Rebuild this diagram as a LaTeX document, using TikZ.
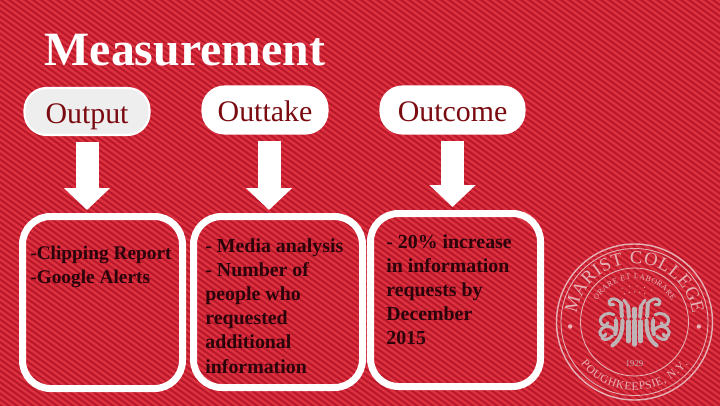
\documentclass[tikz,border=0pt]{standalone}
\usepackage{fontspec}
\setmainfont{Liberation Serif}
\usetikzlibrary{arrows.meta,decorations.text}
\definecolor{slidered}{RGB}{204,34,50}
\definecolor{stripered}{RGB}{222,52,66}
\definecolor{darkstripe}{RGB}{180,22,42}
\definecolor{pilltext}{RGB}{122,10,16}
\definecolor{bodytext}{RGB}{42,4,10}
\definecolor{sealgray}{RGB}{228,178,182}
\definecolor{monogram}{RGB}{190,180,182}
\tikzset{
  pill/.style={draw=white, fill=white, line width=1.2pt, rounded corners=.44cm, text=pilltext, font=\fontsize{17}{20}\selectfont, minimum height=.94cm, inner sep=0pt, text height=.52cm, text depth=.06cm},
  listbox/.style={draw=white, line width=.14cm, rounded corners=.56cm},
  listtext/.style={anchor=north west, inner sep=0pt, align=left, text=bodytext, font=\fontsize{11}{13.7}\selectfont\bfseries},
  widetext/.style={listtext, font=\fontsize{11.3}{13.7}\selectfont\bfseries},
  blockarrow/.style={draw=white, line width=.46cm, -{Triangle[length=.44cm,width=.9cm]}, shorten <=.12cm, shorten >=.06cm},
  sealring/.style={draw=sealgray, line width=.5pt},
  sealstem/.style={draw=monogram, line width=2.3pt, line cap=round},
  sealcurl/.style={draw=monogram, line width=1.7pt, line cap=round},
}
\begin{document}
\begin{tikzpicture}
\useasboundingbox (0,0) rectangle (14.4,8.1);
\fill[slidered] (-.1,-.1) rectangle (14.5,8.2);
% background weave
\begin{scope}
\clip (-.1,-.1) rectangle (14.5,8.2);
\foreach \s in {-13,-12.84,...,15}
  \draw[stripered, line width=1pt] (\s,8.2) -- ++(14,-10);
\foreach \s in {-12.92,-12.76,...,15}
  \draw[darkstripe, line width=.7pt] (\s,8.2) -- ++(14,-10);
\end{scope}

\node[text=white, inner sep=0pt, font=\fontsize{27.2}{30}\selectfont\bfseries] (title) at (3.7,7.1) {Measurement};

\node[pill, fill={rgb,255:red,238;green,238;blue,238}, minimum width=2.5cm] (output) at (1.74,5.87) {Output};
\node[pill, minimum width=2.5cm] (outtake) at (5.3,5.9) {Outtake};
\node[pill, minimum width=2.88cm] (outcome) at (9.05,5.9) {Outcome};

\node[listbox, minimum width=3.2cm, minimum height=3.44cm] (clipbox) at (2.05,2.05) {};
\node[listbox, minimum width=3.38cm, minimum height=3.42cm] (mediabox) at (5.56,2.06) {};
\node[listbox, minimum width=3.4cm, minimum height=3.46cm] (increasebox) at (9.11,2.1) {};

\draw[blockarrow] (output.south) -- (output.south |- clipbox.north);
\draw[blockarrow] ([xshift=.08cm]outtake.south) -- ([xshift=.08cm]outtake.south |- mediabox.north);
\draw[blockarrow] (outcome.south) -- (outcome.south |- increasebox.north);

\node[listtext] (cliptext) at (.6,3.18) {-Clipping Report\\-Google Alerts};
\node[widetext] (mediatext) at (4.1,3.33) {- Media analysis\\- Number of\\people who\\requested\\additional\\information};
\node[widetext] (increasetext) at (7.72,3.42) {- 20\% increase\\in information\\requests by\\December\\2015};

% seal
\coordinate (seal) at (12.69,1.66);
\draw[sealring, line width=.8pt] (seal) circle (1.56);
\draw[sealring] (seal) circle (1.47);
\draw[sealring] (seal) circle (1.08);
\path[decorate, decoration={text along path, text align={fit to path}, text={|\fontsize{10.5}{10.5}\selectfont\color{sealgray}|MARIST COLLEGE}}]
  ([shift={(172:1.17)}]seal) arc (172:8:1.17);
\path[decorate, decoration={text along path, text align={fit to path}, text={|\fontsize{4.5}{4.5}\selectfont\color{sealgray}|ORARE ET LABORARE}}]
  ([shift={(150:.86)}]seal) arc (150:30:.86);
\path[decorate, decoration={text along path, text align={fit to path}, text={|\fontsize{6.5}{6.5}\selectfont\color{sealgray}|POUGHKEEPSIE, N.Y.}}]
  ([shift={(218:1.36)}]seal) arc (218:322:1.36);
\node[text=monogram, inner sep=0pt, font=\fontsize{5}{6}\selectfont] (year) at (12.69,.83) {1929};
\fill[sealgray] ([shift={(184:1.29)}]seal) circle (.045) ([shift={(-4:1.29)}]seal) circle (.045);
\foreach \a in {62,74,...,118}
  \fill[sealgray] ([shift={(\a:.72)}]seal) circle (.012);
\foreach \a in {70,80,...,110}
  \fill[sealgray] ([shift={(\a:.6)}]seal) circle (.012);
% monogram, one half and its mirror
\begin{scope}[shift={(seal)}, x=.00667cm, y=-.00667cm]
\foreach \m in {1,-1}{
\begin{scope}[xscale=\m]
  \draw[sealstem] (-40,-56) -- (-38,-18);
  \draw[sealstem] (-19,-46) -- (-17,-16);
  \draw[sealcurl] (-40,-56) .. controls (-54,-72) and (-70,-74) .. (-76,-62) .. controls (-78,-52) and (-68,-48) .. (-62,-52);
  \draw[sealcurl] (-19,-48) -- (-32,-66);
  \draw[sealcurl] (-62,-22) .. controls (-78,-32) and (-104,-22) .. (-102,-2) .. controls (-100,14) and (-82,14) .. (-80,2);
  \draw[sealcurl] (-60,24) .. controls (-76,4) and (-100,14) .. (-104,30) .. controls (-104,46) and (-88,46) .. (-86,36);
  \draw[sealcurl] (-66,42) .. controls (-76,52) and (-90,56) .. (-98,48);
  \draw[sealstem] (-36,-4) .. controls (-36,30) and (-42,52) .. (-66,70);
  \draw[sealstem] (-56,-4) .. controls (-54,14) and (-54,24) .. (-58,36);
  \draw[sealstem] (-18,-2) -- (-18,58);
  \fill[monogram] (-56,-12) circle (3) (-36,-12) circle (3) (-18,-10) circle (3);
\end{scope}
}
\draw[sealstem] (0,-40) -- (0,-14);
\draw[sealstem] (0,-4) -- (0,68);
\fill[monogram] (0,-9) circle (3);
\end{scope}
\end{tikzpicture}
\end{document}
